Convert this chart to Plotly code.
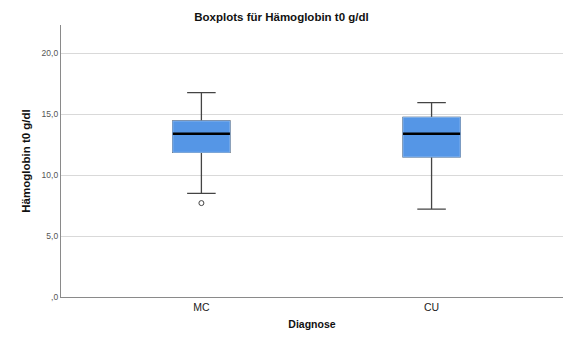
import plotly.graph_objects as go

categories = ["MC", "CU"]
q1 = [11.86, 11.48]
median = [13.39, 13.39]
q3 = [14.43, 14.73]
lower_whisker = [8.5, 7.21]
upper_whisker = [16.75, 15.93]
outlier_cat = [0]
outlier_val = [7.7]

ytick_vals = [0, 5, 10, 15, 20]
ytick_text = [",0", "5,0", "10,0", "15,0", "20,0"]

xpos = list(range(len(categories)))
box_w = 0.248
fill = "#5596E6"
font = "Liberation Sans"

fig = go.Figure()
# whiskers
fig.add_trace(go.Box(x=xpos, q1=q1, median=median, q3=q3,
                     lowerfence=lower_whisker, upperfence=upper_whisker,
                     width=box_w, whiskerwidth=0.5, fillcolor=fill,
                     line=dict(color="#444444", width=1.3), boxpoints=False,
                     hoverinfo="skip", showlegend=False))
# box body
fig.add_trace(go.Box(x=xpos, q1=q1, median=median, q3=q3,
                     lowerfence=q1, upperfence=q3,
                     width=box_w, whiskerwidth=0, fillcolor=fill,
                     line=dict(color="#86B6EF", width=1), boxpoints=False,
                     hoverinfo="skip", showlegend=False))
# median line
fig.add_trace(go.Box(x=xpos, q1=median, median=median, q3=median,
                     lowerfence=median, upperfence=median,
                     width=box_w, whiskerwidth=0, fillcolor="black",
                     line=dict(color="black", width=2.4), boxpoints=False,
                     hoverinfo="skip", showlegend=False))
# outlier
fig.add_trace(go.Scatter(x=outlier_cat, y=outlier_val, mode="markers",
                         marker=dict(symbol="circle-open", size=5,
                                     color="#444444", line=dict(width=1)),
                         hoverinfo="skip", showlegend=False))

fig.update_layout(
    width=563, height=338,
    margin=dict(l=61, r=0, t=25, b=41),
    plot_bgcolor="white", paper_bgcolor="white",
    boxmode="overlay",
    font=dict(family=font, color="#222222"),
    title=dict(text="<b>Boxplots für Hämoglobin t0 g/dl</b>",
               x=0.5, xanchor="center", y=1 - 17 / 338, yanchor="middle",
               yref="container", font=dict(size=11.5, color="#111111")),
    xaxis=dict(range=[-0.61, 1.571], tickvals=xpos, ticktext=categories,
               showgrid=False, zeroline=False, showline=True,
               linecolor="#8a8a8a", linewidth=1.3,
               tickfont=dict(size=10.5, color="#222222"),
               title=dict(text="<b>Diagnose</b>", font=dict(size=10.5, color="#111111"),
                          standoff=8)),
    yaxis=dict(range=[0, 22.3], tickvals=ytick_vals, ticktext=ytick_text,
               showgrid=True, gridcolor="#d9d9d9", gridwidth=1,
               zeroline=False, showline=True, linecolor="#8a8a8a", linewidth=1.3,
               tickfont=dict(size=8.5, color="#555555"),
               title=dict(text="<b>Hämoglobin t0 g/dl</b>", font=dict(size=11.5, color="#111111"),
                          standoff=8)),
)

fig.write_html("out.html", config={"displayModeBar": False},
               post_script="document.body.style.margin='0';document.body.style.overflow='hidden';")
